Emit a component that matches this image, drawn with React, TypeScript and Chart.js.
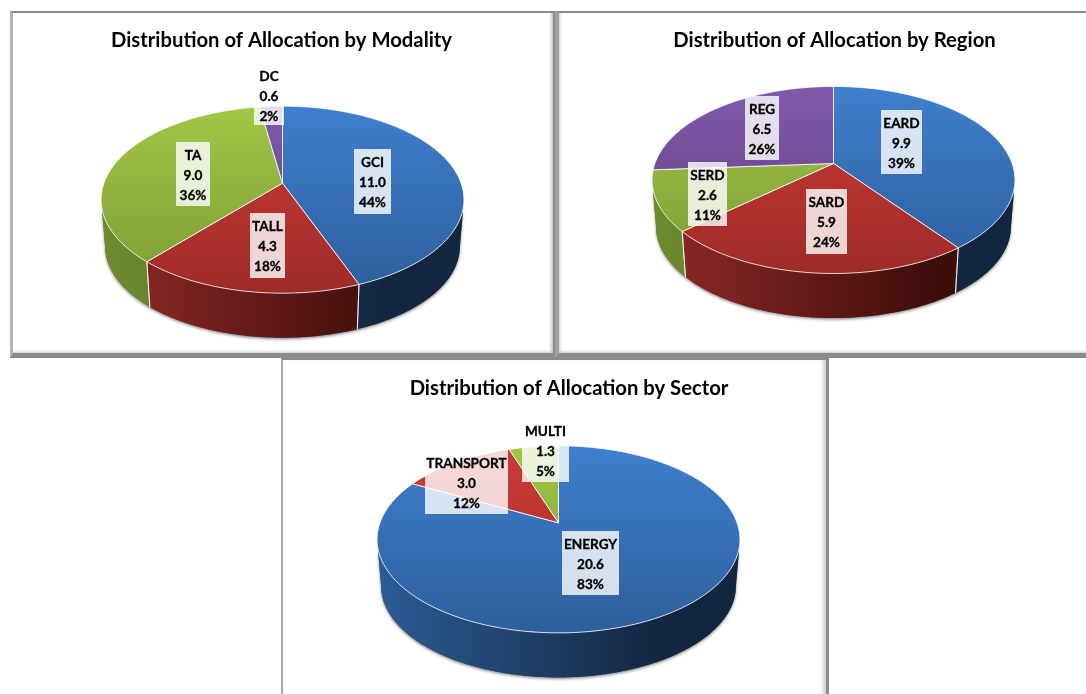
import React, { useEffect, useRef } from "react";
import { Chart, registerables } from "chart.js";

Chart.register(...registerables);

// ---- data ----
const modalityTitle = "Distribution of Allocation by Modality";
const modalityLabels = ["GCI", "TALL", "TA", "DC"];
const modalityValues = [11.0, 4.3, 9.0, 0.6];
const modalityPercents = ["44%", "18%", "36%", "2%"];

const regionTitle = "Distribution of Allocation by Region";
const regionLabels = ["EARD", "SARD", "SERD", "REG"];
const regionValues = [9.9, 5.9, 2.6, 6.5];
const regionPercents = ["39%", "24%", "11%", "26%"];

const sectorTitle = "Distribution of Allocation by Sector";
const sectorLabels = ["ENERGY", "TRANSPORT", "MULTI"];
const sectorValues = [20.6, 3.0, 1.3];
const sectorPercents = ["83%", "12%", "5%"];

// ---- styles and layout ----
const sliceTop = [
  ["#3F7FCD", "#2D5E9C"],
  ["#CE3B37", "#9E2B29"],
  ["#A1C746", "#7D9A35"],
  ["#8259AC", "#5C3F7E"],
];
const sliceRim = [
  ["#2C5C95", "#12263F"],
  ["#922927", "#3E0E0B"],
  ["#6E8C2E", "#4F6520"],
  ["#5F4180", "#38254E"],
];

const RADIUS = 90.6; // vertical semi-axis of the tilted pie
const WIDE = 1.971; // horizontal stretch of the tilted pie
const TILT = 0.1765; // perspective strength
const DEPTH = 47;
const BASE_SCALE = 0.978;

type Box = [number, number, number, number];

const panels = [
  {
    title: modalityTitle, labels: modalityLabels, values: modalityValues, percents: modalityPercents,
    left: 10, top: 11, width: 547, height: 347,
    padding: { left: 0, right: 2, top: 0, bottom: 44 }, titleTop: 17, titleShift: -1,
    boxes: [[354, 149, 391, 214], [250, 213, 285, 278], [176, 142, 210, 206], [254, 63, 284, 125]] as Box[],
  },
  {
    title: regionTitle, labels: regionLabels, values: regionValues, percents: regionPercents,
    left: 557, top: 11, width: 529, height: 347,
    padding: { left: 24, right: 0, top: 0, bottom: 83.4 }, titleTop: 17, titleShift: 1,
    boxes: [[881, 110, 922, 174], [806, 189, 847, 254], [688, 162, 727, 226], [745, 96, 779, 160]] as Box[],
  },
  {
    title: sectorTitle, labels: sectorLabels, values: sectorValues, percents: sectorPercents,
    left: 281, top: 358, width: 548, height: 336,
    padding: { left: 7, right: 0, top: 0, bottom: 48.6 }, titleTop: 18, titleShift: 10.5,
    boxes: [[562, 531, 619, 595], [425, 450, 508, 514], [522, 418, 569, 482]] as Box[],
  },
];

const frames: React.CSSProperties[] = [
  {
    left: 10, top: 11, width: 540, height: 340,
    borderTop: "2px solid #8a8a8a", borderLeft: "3px solid #b4b4b4", borderRight: "4px solid #8c8c8c", borderBottom: "5px solid #8c8c8c",
    boxShadow: "inset -3px -2px 3px -1px #c4c4c4",
  },
  {
    left: 555, top: 11, width: 560, height: 340,
    borderTop: "2px solid #8a8a8a", borderLeft: "4px solid #a0a0a0", borderBottom: "5px solid #8c8c8c",
    boxShadow: "inset 2px -2px 3px -1px #c4c4c4",
  },
  {
    left: 281, top: 358, width: 543, height: 360,
    borderTop: "2px solid #8a8a8a", borderLeft: "2px solid #a8a8a8", borderRight: "3px solid #8c8c8c",
    boxShadow: "inset -5px 0 5px -3px #bdbdbd",
  },
];

// Place an angle of the library's arc on the tilted, perspective pie.
function project(el: any, angle: number, scale: number, drop: number) {
  const a = angle + Math.PI / 2;
  const u = Math.sin(a);
  const v = -Math.cos(a);
  const w = 1 - TILT * v;
  return {
    x: el.x + (WIDE * el.outerRadius * u * scale) / w,
    y: el.y + (el.outerRadius * v * scale) / w + drop,
  };
}

function arcPoints(el: any, from: number, to: number, scale: number, drop: number) {
  const steps = Math.max(2, Math.ceil(Math.abs(to - from) / 0.015));
  const pts = [];
  for (let i = 0; i <= steps; i++) pts.push(project(el, from + ((to - from) * i) / steps, scale, drop));
  return pts;
}

function tracePolygon(ctx: CanvasRenderingContext2D, pts: { x: number; y: number }[], start = true) {
  pts.forEach((p, i) => (i === 0 && start ? ctx.moveTo(p.x, p.y) : ctx.lineTo(p.x, p.y)));
}

const VIS_FROM = (100.2 * Math.PI) / 180 - Math.PI / 2;
const VIS_TO = (259.8 * Math.PI) / 180 - Math.PI / 2;

const tiltedPie = {
  id: "tiltedPie",
  afterLayout(chart: any, _a: any, opts: any) {
    chart.titleBlock.left += opts.titleShift;
    chart.titleBlock.right += opts.titleShift;
  },
  beforeDatasetDraw(chart: any, args: any) {
    const ctx: CanvasRenderingContext2D = chart.ctx;
    const arcs = args.meta.data;
    const first = arcs[0];
    const halfW = WIDE * first.outerRadius * 1.016;
    const topY = first.y - first.outerRadius / (1 + TILT);
    const botY = first.y + first.outerRadius / (1 - TILT);

    // soft edge below the wall
    ctx.save();
    ctx.shadowColor = "rgba(0,0,0,0.45)";
    ctx.shadowBlur = 3;
    ctx.shadowOffsetY = 1.5;
    ctx.fillStyle = "#6a6a6a";
    ctx.beginPath();
    tracePolygon(ctx, arcPoints(first, VIS_FROM, VIS_TO, 1, 0));
    tracePolygon(ctx, arcPoints(first, VIS_TO, VIS_FROM, BASE_SCALE, DEPTH), false);
    ctx.closePath();
    ctx.fill();
    ctx.restore();

    // walls
    arcs.forEach((el: any, i: number) => {
      const from = Math.max(el.startAngle, VIS_FROM);
      const to = Math.min(el.endAngle, VIS_TO);
      if (to <= from) return;
      const g = ctx.createLinearGradient(first.x - halfW, 0, first.x + halfW, 0);
      g.addColorStop(0, sliceRim[i][0]);
      g.addColorStop(0.78, sliceRim[i][1]);
      g.addColorStop(1, sliceRim[i][1]);
      ctx.fillStyle = g;
      ctx.beginPath();
      tracePolygon(ctx, arcPoints(el, from, to, 1, 0));
      tracePolygon(ctx, arcPoints(el, to, from, BASE_SCALE, DEPTH), false);
      ctx.closePath();
      ctx.fill();
    });

    // seams on the wall
    ctx.strokeStyle = "rgba(255,255,255,0.75)";
    ctx.lineWidth = 1;
    arcs.forEach((el: any) => {
      [el.startAngle, el.endAngle].forEach((a: number) => {
        const norm = ((a - VIS_FROM) % (2 * Math.PI) + 2 * Math.PI) % (2 * Math.PI);
        if (norm > 0.001 && norm < VIS_TO - VIS_FROM - 0.001) {
          const p = project(el, a, 1, 0);
          const q = project(el, a, BASE_SCALE, DEPTH);
          ctx.beginPath();
          ctx.moveTo(p.x, p.y);
          ctx.lineTo(q.x, q.y);
          ctx.stroke();
        }
      });
    });

    // top faces
    arcs.forEach((el: any, i: number) => {
      const g = ctx.createLinearGradient(0, topY, 0, botY);
      g.addColorStop(0, sliceTop[i][0]);
      g.addColorStop(1, sliceTop[i][1]);
      ctx.fillStyle = g;
      ctx.strokeStyle = "rgba(255,255,255,0.8)";
      ctx.lineWidth = 1;
      ctx.lineJoin = "round";
      ctx.beginPath();
      ctx.moveTo(el.x, el.y);
      tracePolygon(ctx, arcPoints(el, el.startAngle, el.endAngle, 1, 0), false);
      ctx.closePath();
      ctx.fill();
      ctx.stroke();
    });
    return false;
  },
  afterDatasetsDraw(chart: any, _a: any, opts: any) {
    const ctx: CanvasRenderingContext2D = chart.ctx;
    const values = chart.data.datasets[0].data as number[];
    const labels = chart.data.labels as string[];
    ctx.save();
    ctx.font = "700 13.6px Lato";
    ctx.textAlign = "center";
    ctx.textBaseline = "middle";
    labels.forEach((label, i) => {
      const [x0, y0, x1, y1] = opts.boxes[i] as Box;
      const bx = x0 - opts.left;
      const by = y0 - opts.top;
      ctx.fillStyle = "rgba(255,255,255,0.8)";
      ctx.fillRect(bx, by, x1 - x0, y1 - y0);
      ctx.fillStyle = "#000";
      ctx.strokeStyle = "#000";
      ctx.lineWidth = 0.3;
      const tx = bx + (x1 - x0) / 2;
      [label, values[i].toFixed(1), opts.percents[i]].forEach((line: string, k: number) => {
        ctx.fillText(line, tx, by + 14 + k * 20);
        ctx.strokeText(line, tx, by + 14 + k * 20);
      });
    });
    ctx.restore();
  },
};

function PiePanel({ cfg }: { cfg: (typeof panels)[number] }) {
  const ref = useRef<HTMLCanvasElement | null>(null);
  useEffect(() => {
    const chart = new Chart(ref.current as HTMLCanvasElement, {
      type: "pie",
      data: {
        labels: cfg.labels,
        datasets: [{ data: cfg.values, borderWidth: 0, backgroundColor: sliceTop.map((c) => c[0]) }],
      },
      plugins: [tiltedPie],
      options: {
        animation: false,
        responsive: false,
        radius: RADIUS,
        layout: { padding: cfg.padding },
        plugins: {
          legend: { display: false },
          tooltip: { enabled: false },
          title: {
            display: true,
            text: cfg.title,
            color: "#000",
            font: { family: "Lato", size: 20.25, weight: "bold", lineHeight: 1.2 },
            padding: { top: cfg.titleTop, bottom: 0 },
          },
          tiltedPie: {
            boxes: cfg.boxes,
            percents: cfg.percents,
            left: cfg.left,
            top: cfg.top,
            titleShift: cfg.titleShift,
          },
        },
      } as any,
    });
    return () => chart.destroy();
  }, [cfg]);
  return (
    <canvas
      ref={ref}
      width={cfg.width}
      height={cfg.height}
      style={{ position: "absolute", left: cfg.left, top: cfg.top, width: cfg.width, height: cfg.height }}
    />
  );
}

export default function App() {
  return (
    <div style={{ position: "fixed", left: 0, top: 0, width: 1086, height: 694, overflow: "hidden", background: "#fff" }}>
      {frames.map((f, i) => (
        <div key={i} style={{ position: "absolute", boxSizing: "content-box", background: "#fff", ...f }} />
      ))}
      {panels.map((p) => (
        <PiePanel key={p.title} cfg={p} />
      ))}
    </div>
  );
}
